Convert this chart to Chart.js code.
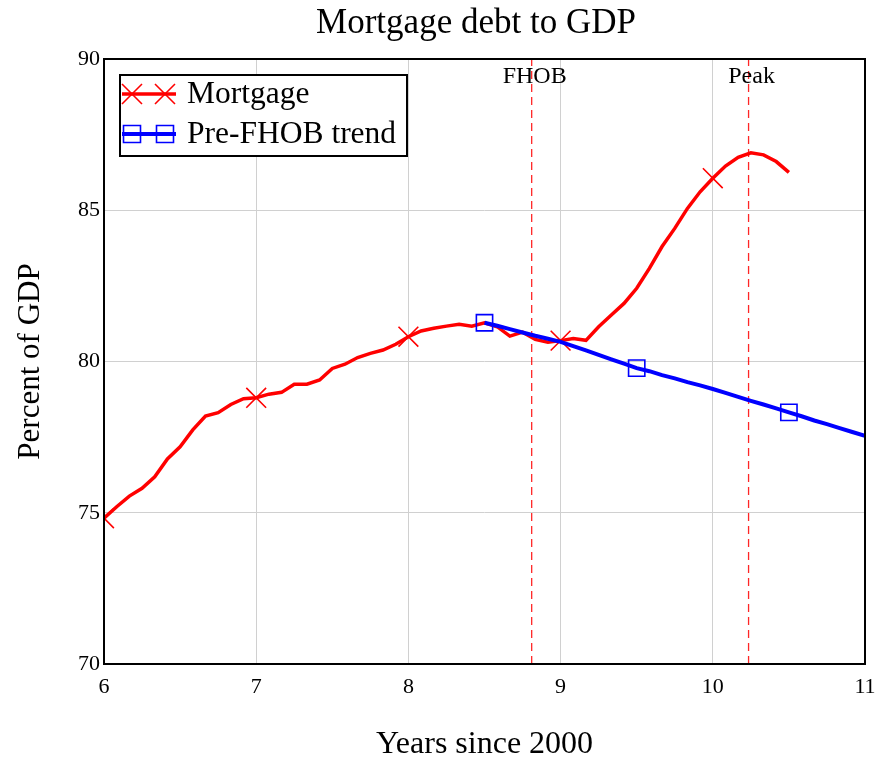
<!DOCTYPE html>
<html>
<head>
<meta charset="utf-8">
<title>Mortgage debt to GDP</title>
<script src="https://cdn.jsdelivr.net/npm/chart.js@4/dist/chart.umd.min.js"></script>
<style>
  body { margin: 0; background: #fff; }
  #wrap { width: 881px; height: 761px; }
</style>
</head>
<body>
<div id="wrap"><canvas id="grafico"></canvas></div>
<script>
// monthly series, years since 2000
const mortgageStart = 6;
const mortgageValues = [
  74.82, 75.20, 75.55, 75.81, 76.19, 76.78, 77.18, 77.74, 78.20, 78.31, 78.58, 78.77, 78.80,
  78.92, 78.98, 79.25, 79.25, 79.39, 79.77, 79.91, 80.13, 80.27, 80.38, 80.57, 80.82,
  81.01, 81.10, 81.17, 81.23, 81.17, 81.28, 81.15, 80.84, 80.97, 80.73, 80.64, 80.69,
  80.76, 80.70, 81.15, 81.54, 81.92, 82.42, 83.08, 83.80, 84.40, 85.06, 85.61, 86.06,
  86.46, 86.75, 86.90, 86.83, 86.61, 86.25
];

const trendStart = 8.5;
const trendValues = [
  81.28, 81.18, 81.07, 80.96, 80.85, 80.75, 80.65,
  80.51, 80.37, 80.22, 80.07, 79.93, 79.78,
  79.68, 79.55, 79.44, 79.32, 79.21, 79.09,
  78.96, 78.83, 78.70, 78.58, 78.45, 78.32,
  78.19, 78.05, 77.93, 77.80, 77.67, 77.54
];

const eventYears = [8.81, 10.235];
const eventLabels = ['FHOB', 'Peak'];

const xTicks = [6, 7, 8, 9, 10, 11];
const yTicks = [70, 75, 80, 85, 90];

const serif = '"Liberation Serif", "DejaVu Serif", serif';

function monthly(start, values) {
  return values.map((v, i) => ({ x: start + i / 12, y: v }));
}

// a marker every 12 months
function markerEvery12(r) {
  return ctx => (ctx.dataIndex % 12 === 0 ? r : 0);
}

const datasets = [
  {
    label: 'Pre-FHOB trend',
    data: monthly(trendStart, trendValues),
    borderColor: '#0000ff',
    borderWidth: 4,
    pointStyle: 'rect',
    pointRadius: markerEvery12(11.5),
    pointBorderColor: '#0000ff',
    pointBorderWidth: 1.6,
    pointBackgroundColor: 'rgba(0,0,0,0)',
    order: 1
  },
  {
    label: 'Mortgage',
    data: monthly(mortgageStart, mortgageValues),
    borderColor: '#ff0000',
    borderWidth: 3.5,
    pointStyle: 'crossRot',
    pointRadius: markerEvery12(14),
    pointBorderColor: '#ff0000',
    pointBorderWidth: 1.6,
    order: 2
  }
];

eventYears.forEach((yr, i) => {
  datasets.push({
    label: eventLabels[i],
    data: [{ x: yr, y: yTicks[0] }, { x: yr, y: yTicks[yTicks.length - 1] }],
    borderColor: 'rgba(255,0,0,0.85)',
    borderWidth: 1.3,
    borderDash: [8, 5],
    pointRadius: 0,
    order: 3
  });
});

function desenharMarcador(ctx, tipo, x, y, cor) {
  ctx.save();
  ctx.strokeStyle = cor;
  ctx.lineWidth = 1.6;
  ctx.beginPath();
  if (tipo === 'cross') {
    ctx.moveTo(x - 10, y - 10); ctx.lineTo(x + 10, y + 10);
    ctx.moveTo(x - 10, y + 10); ctx.lineTo(x + 10, y - 10);
  } else {
    ctx.rect(x - 8.5, y - 8.5, 17, 17);
  }
  ctx.stroke();
  ctx.restore();
}

const extras = {
  id: 'extras',
  afterDatasetsDraw(chart) {
    const ctx = chart.ctx;
    const area = chart.chartArea;
    const xs = chart.scales.x;

    // title
    ctx.save();
    ctx.fillStyle = '#000';
    ctx.font = '35px ' + serif;
    ctx.textAlign = 'center';
    ctx.textBaseline = 'alphabetic';
    ctx.fillText('Mortgage debt to GDP', 476, 33);

    // event labels
    ctx.font = '24px ' + serif;
    eventYears.forEach((yr, i) => {
      ctx.fillText(eventLabels[i], xs.getPixelForValue(yr) + 3, 83);
    });
    ctx.restore();

    // frame
    ctx.save();
    ctx.strokeStyle = '#000';
    ctx.lineWidth = 2;
    ctx.strokeRect(area.left, area.top, area.right - area.left, area.bottom - area.top);
    ctx.restore();

    // legend
    const lx = 120, ly = 75, lw = 287, lh = 81;
    ctx.save();
    ctx.fillStyle = '#fff';
    ctx.fillRect(lx, ly, lw, lh);
    ctx.strokeStyle = '#000';
    ctx.lineWidth = 2;
    ctx.strokeRect(lx, ly, lw, lh);

    const rows = [
      { y: 94, cor: '#ff0000', w: 3.5, tipo: 'cross', texto: 'Mortgage' },
      { y: 134, cor: '#0000ff', w: 4, tipo: 'rect', texto: 'Pre-FHOB trend' }
    ];
    rows.forEach(r => {
      ctx.strokeStyle = r.cor;
      ctx.lineWidth = r.w;
      ctx.beginPath();
      ctx.moveTo(122, r.y);
      ctx.lineTo(176, r.y);
      ctx.stroke();
      desenharMarcador(ctx, r.tipo, 132, r.y, r.cor);
      desenharMarcador(ctx, r.tipo, 165, r.y, r.cor);
      ctx.fillStyle = '#000';
      ctx.font = '31.5px ' + serif;
      ctx.textAlign = 'left';
      ctx.textBaseline = 'middle';
      ctx.fillText(r.texto, 187, r.y + 1);
    });
    ctx.restore();
  }
};

new Chart(document.getElementById('grafico'), {
  type: 'line',
  data: { datasets: datasets },
  plugins: [extras],
  options: {
    responsive: true,
    maintainAspectRatio: false,
    animation: false,
    layout: { padding: { top: 59, right: 16, bottom: 0, left: 0 } },
    plugins: {
      legend: { display: false },
      tooltip: { enabled: false },
      title: { display: false }
    },
    elements: { line: { tension: 0 } },
    scales: {
      x: {
        type: 'linear',
        min: xTicks[0],
        max: xTicks[xTicks.length - 1],
        afterBuildTicks: s => { s.ticks = xTicks.map(v => ({ value: v })); },
        afterFit: s => { s.height = 97; s.paddingLeft = 0; s.paddingRight = 0; },
        grid: { color: '#d0d0d0', lineWidth: 1, drawTicks: false },
        border: { display: false },
        ticks: {
          color: '#000',
          padding: 10,
          maxRotation: 0,
          font: { family: serif, size: 22 }
        },
        title: {
          display: true,
          text: 'Years since 2000',
          color: '#000',
          font: { family: serif, size: 32, lineHeight: 1 },
          padding: { top: 0, bottom: 0 }
        }
      },
      y: {
        type: 'linear',
        min: yTicks[0],
        max: yTicks[yTicks.length - 1],
        afterBuildTicks: s => { s.ticks = yTicks.map(v => ({ value: v })); },
        afterFit: s => { s.width = 104; s.paddingTop = 0; s.paddingBottom = 0; },
        grid: { color: '#d0d0d0', lineWidth: 1, drawTicks: false },
        border: { display: false },
        ticks: {
          color: '#000',
          padding: 4,
          font: { family: serif, size: 22 }
        },
        title: {
          display: true,
          text: 'Percent of GDP',
          color: '#000',
          font: { family: serif, size: 31, lineHeight: 1 },
          padding: { top: 15, bottom: 0 }
        }
      }
    }
  }
});
</script>
</body>
</html>
